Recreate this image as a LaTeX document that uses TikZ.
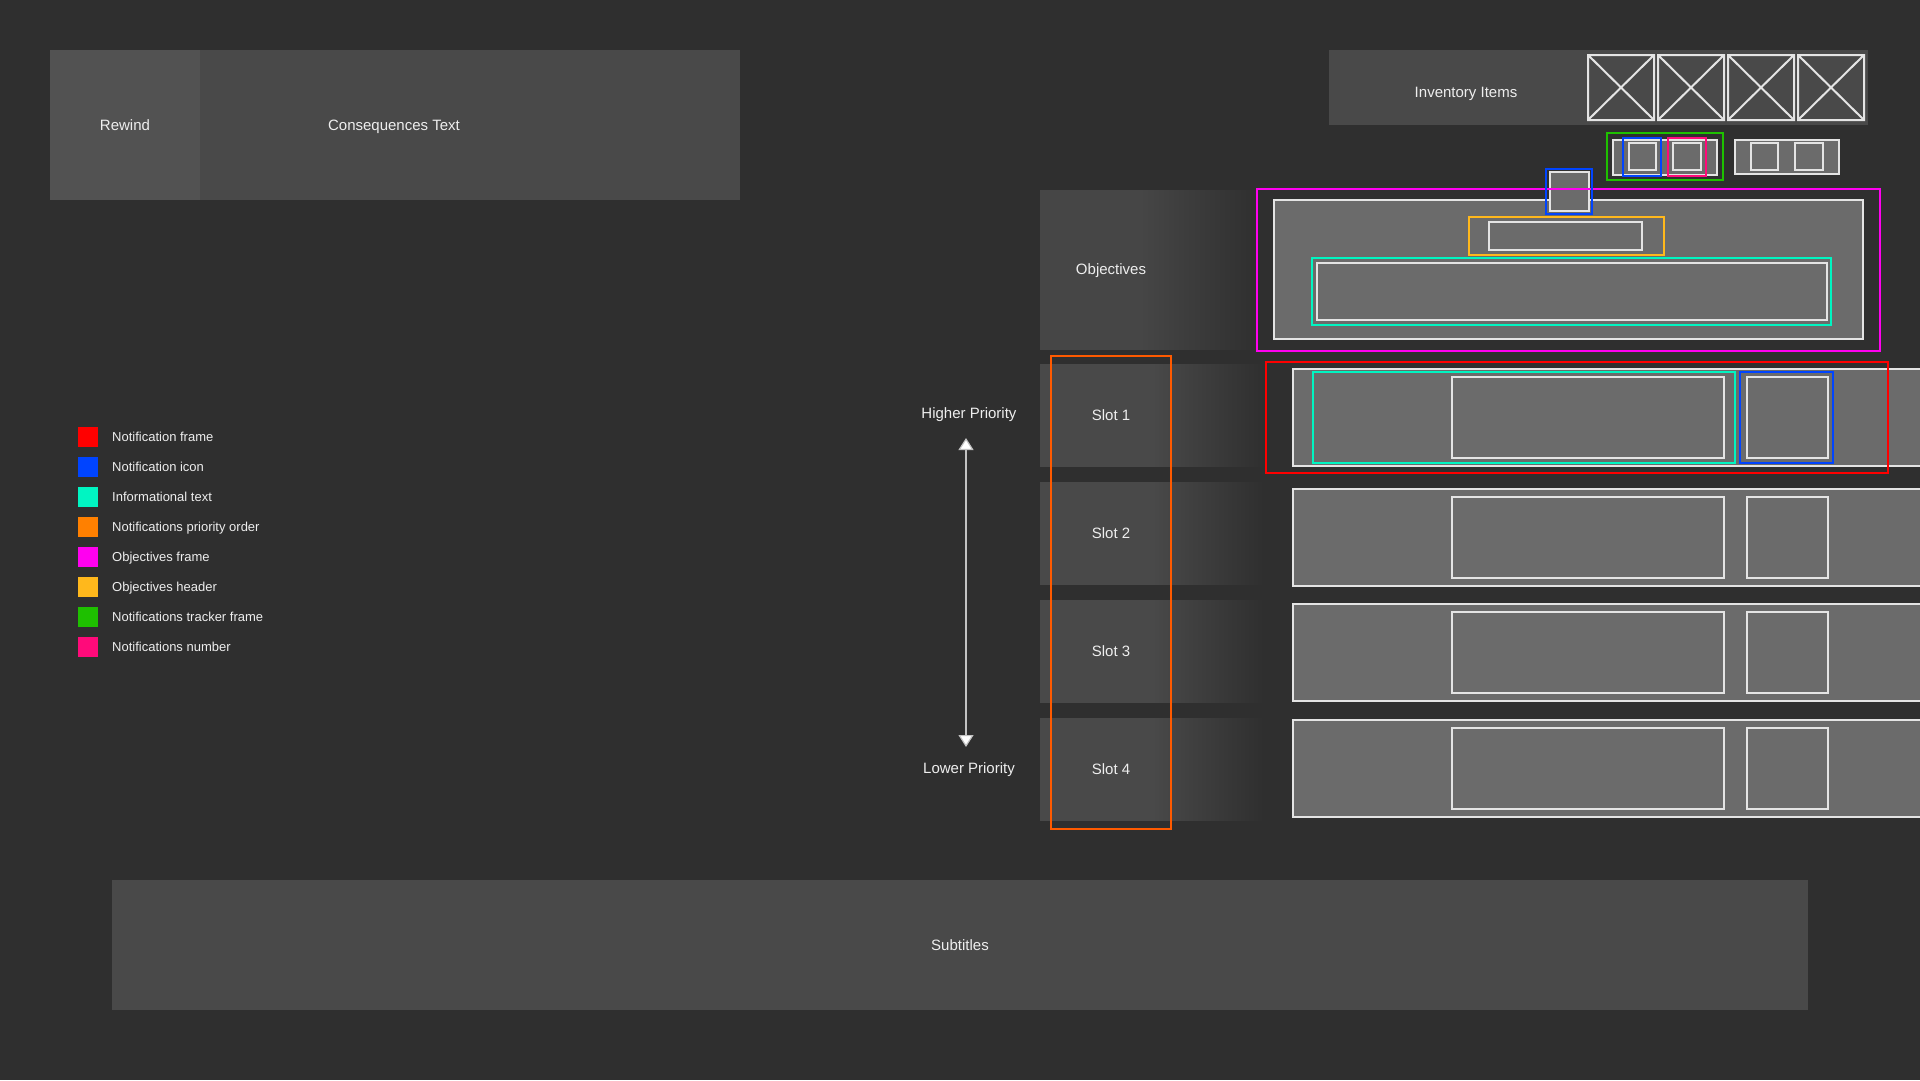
\documentclass[tikz,border=0pt]{standalone}
\usepackage{fontspec}
\setmainfont{Liberation Sans}
\usepackage{xcolor}
\usepackage{tikz}
\usetikzlibrary{arrows.meta, positioning}

\definecolor{bgc}{HTML}{2F2F2F}
\definecolor{panelc}{HTML}{494949}
\definecolor{objc}{HTML}{464646}
\definecolor{rewindc}{HTML}{525252}
\definecolor{rowc}{HTML}{6B6B6B}
\definecolor{linec}{HTML}{E4E4E4}
\definecolor{textc}{HTML}{EEEEEE}
\definecolor{nred}{HTML}{FF0000}
\definecolor{nblue}{HTML}{0044FF}
\definecolor{ncyan}{HTML}{00F5C2}
\definecolor{nprio}{HTML}{FF5A00}
\definecolor{norange}{HTML}{FF8000}
\definecolor{nmagenta}{HTML}{FF00F0}
\definecolor{nyellow}{HTML}{FFB81C}
\definecolor{ngreen}{HTML}{1EC000}
\definecolor{npink}{HTML}{FF0A7A}

\pgfdeclarehorizontalshading{slotfade}{100bp}{color(0bp)=(panelc); color(25bp)=(panelc); color(50bp)=(panelc); color(75bp)=(bgc); color(100bp)=(bgc)}
\pgfdeclarehorizontalshading{objfade}{100bp}{color(0bp)=(objc); color(25bp)=(objc); color(48bp)=(objc); color(75bp)=(bgc); color(100bp)=(bgc)}

\begin{document}
\begin{tikzpicture}[x=1pt, y=-1pt,
    panel/.style={fill=panelc, inner sep=0pt, outer sep=0pt, text=textc, text height=11pt, text depth=0pt, font=\fontsize{15}{18}\selectfont},
    lbl/.style={text=textc, inner sep=0pt, text height=11pt, text depth=0pt, font=\fontsize{15}{18}\selectfont},
    legtext/.style={text=textc, inner sep=0pt, anchor=west, text height=9.5pt, text depth=0pt, font=\fontsize{13}{16}\selectfont},
    wirebox/.style={fill=rowc, draw=linec, line width=2pt},
    frame/.style={draw=#1, line width=2.6pt},
    prioarrow/.style={{Triangle[width=15pt, length=12pt, fill=white]}-{Triangle[width=15pt, length=12pt, fill=white]}, draw=linec!85!black, line width=1.2pt}
]
\useasboundingbox[fill=bgc] (0,0) rectangle (1920,1080);

% top left bar
\node[panel, fill=rewindc, minimum width=150pt, minimum height=150pt] (rewind) at (125,125) {Rewind};
\node[panel, minimum width=540pt, minimum height=150pt, right=0pt of rewind] (conseq) {};
\node[lbl] (conseqtext) at (394,125) {Consequences Text};

% inventory
\node[panel, minimum width=539pt, minimum height=75pt] (inventory) at (1598.5,87.5) {};
\node[lbl] (invtext) at (1466,92) {Inventory Items};
\foreach \i in {0,...,3} {
  \draw[linec, line width=2pt] ({1588+70*\i},55) rectangle ({1654+70*\i},120)
    ({1588+70*\i},55) -- ({1654+70*\i},120) ({1654+70*\i},55) -- ({1588+70*\i},120);
}

% notification trackers
\draw[wirebox] (1613,140) rectangle (1717,175);
\draw[wirebox] (1629,143) rectangle (1656,170);
\draw[wirebox] (1673,143) rectangle (1701,170);
\draw[frame=nblue] (1623,138) rectangle (1661,176);
\draw[frame=npink] (1668,138) rectangle (1706,176);
\draw[frame=ngreen] (1607,133) rectangle (1723,180);
\draw[wirebox] (1735,140) rectangle (1839,174);
\draw[wirebox] (1751,143) rectangle (1778,170);
\draw[wirebox] (1795,143) rectangle (1823,170);

% objectives
\shade[shading=objfade] (1040,190) rectangle (1258,349);
\node[lbl] (objectives) at (1111,269) {Objectives};
\draw[wirebox] (1274,200) rectangle (1863,339);
\draw[wirebox] (1489,222) rectangle (1642,250);
\draw[frame=nyellow] (1469,217) rectangle (1664,255);
\draw[wirebox] (1317,263) rectangle (1827,320);
\draw[frame=ncyan] (1312,258) rectangle (1831,325);
\draw[wirebox] (1550,172) rectangle (1589,211);
\draw[frame=nmagenta] (1257,189) rectangle (1880,351);
\draw[frame=nblue] (1546,169) rectangle (1592,214);

% notification slots
\foreach \n/\t/\h in {1/364/369, 2/482/489, 3/600/604, 4/718/720} {
  \shade[shading=slotfade] (1040,\t) rectangle (1264,{\t+102});
  \node[lbl] (slot\n) at (1111,{\t+51}) {Slot \n};
  \draw[wirebox] (1293,\h) rectangle (1925,{\h+97});
  \draw[wirebox] (1452,{\h+8}) rectangle (1724,{\h+89});
  \draw[wirebox] (1747,{\h+8}) rectangle (1828,{\h+89});
}
\draw[frame=ncyan] (1313,372) rectangle (1735,463);
\draw[frame=nblue] (1740,372) rectangle (1833,463);
\draw[frame=nred] (1266,362) rectangle (1888,473);
\draw[draw=nprio, line width=2.2pt] (1051,356) rectangle (1171,829);

% priority arrow
\node[lbl] (higher) at (969,413) {Higher Priority};
\node[lbl] (lower) at (969,768) {Lower Priority};
\coordinate (hitip) at (966,438);
\coordinate (lotip) at (966,747);
\draw[prioarrow] (hitip) -- (lotip);

% legend
\foreach \c/\t [count=\i from 0] in {nred/Notification frame, nblue/Notification icon, ncyan/Informational text, norange/Notifications priority order, nmagenta/Objectives frame, nyellow/Objectives header, ngreen/Notifications tracker frame, npink/Notifications number} {
  \fill[\c] (78,{427+30*\i}) rectangle (98,{447+30*\i});
  \node[legtext] (leg\i) at (112,{437+30*\i}) {\t};
}

% subtitles
\node[panel, minimum width=1696pt, minimum height=130pt] (subtitles) at (960,945) {Subtitles};
\end{tikzpicture}
\end{document}
